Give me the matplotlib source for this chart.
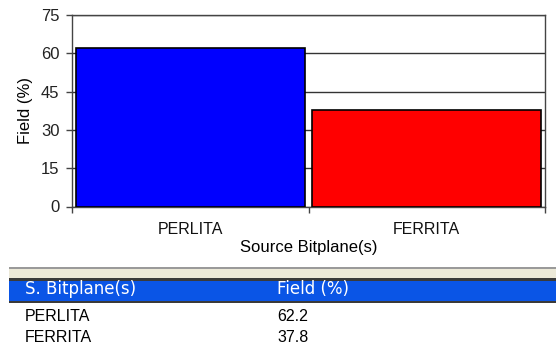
import matplotlib.pyplot as plt
from matplotlib.patches import Rectangle

# Field percentage per source bitplane
phases = ['PERLITA', 'FERRITA']
field_pct = [62.2, 37.8]
bar_colors = ['#0000ff', '#ff0000']
y_ticks = [0, 15, 30, 45, 60, 75]
table_header = ['S. Bitplane(s)', 'Field (%)']

plt.rcParams['font.family'] = ['Liberation Sans', 'DejaVu Sans']

W, H = 556, 352
fig = plt.figure(figsize=(W / 100, H / 100), dpi=100)
fig.patch.set_facecolor('white')

ax = fig.add_axes([72 / W, 1 - 206.5 / H, (545 - 72) / W, (206.5 - 15) / H])
x = list(range(len(phases)))
ax.bar(x, field_pct, width=0.97, color=bar_colors, edgecolor='black',
       linewidth=1.2, zorder=3)

ax.set_xlim(-0.5, len(phases) - 0.5)
ax.set_ylim(0, 75)
ax.set_yticks(y_ticks)
ax.set_yticklabels([str(t) for t in y_ticks], fontsize=12, color='#222222')
ax.set_xticks(x)
ax.set_xticklabels(phases, fontsize=11.5, color='#111111')
ax.tick_params(axis='x', which='major', length=0, pad=11)
ax.set_xticks([i - 0.5 for i in range(len(phases) + 1)], minor=True)
ax.tick_params(axis='x', which='minor', length=4, width=1, color='#444444',
               direction='out')
ax.tick_params(axis='y', length=4.5, width=1, color='#444444', pad=4.5)

ax.grid(axis='y', color='#333333', linewidth=1, zorder=0)
for side in ['left', 'right', 'top', 'bottom']:
    ax.spines[side].set_color('#444444')
    ax.spines[side].set_linewidth(1)

ax.set_ylabel('Field (%)', fontsize=12)
ax.yaxis.set_label_coords(-(72 - 33) / (545 - 72), 0.5)
ax.set_xlabel('Source Bitplane(s)', fontsize=12, labelpad=2)

# Result table below the chart
def fig_rect(x0, y0, x1, y1, color):
    fig.patches.append(Rectangle((x0 / W, 1 - y1 / H), (x1 - x0) / W,
                                 (y1 - y0) / H, transform=fig.transFigure,
                                 facecolor=color, edgecolor='none'))

fig_rect(9, 267, W, 269, '#9a9a9a')
fig_rect(9, 269, W, 278, '#ece9d8')
fig_rect(9, 278, W, 281, '#3a3a3a')
fig_rect(9, 281, W, 301, '#0a55e6')
fig_rect(9, 301, W, 303, '#3a3a3a')

col_x = [25, 277]
for cx, label in zip(col_x, table_header):
    fig.text(cx / W, 1 - 289 / H, label, color='white', fontsize=12,
             family='DejaVu Sans', va='center', ha='left')

row_y = [316.5, 338]
for ry, name, val in zip(row_y, phases, field_pct):
    fig.text(col_x[0] / W, 1 - ry / H, name, fontsize=11.5, va='center',
             ha='left')
    fig.text(col_x[1] / W, 1 - ry / H, f'{val:.1f}', fontsize=11.5,
             va='center', ha='left')

plt.savefig('out.png', dpi=100)
